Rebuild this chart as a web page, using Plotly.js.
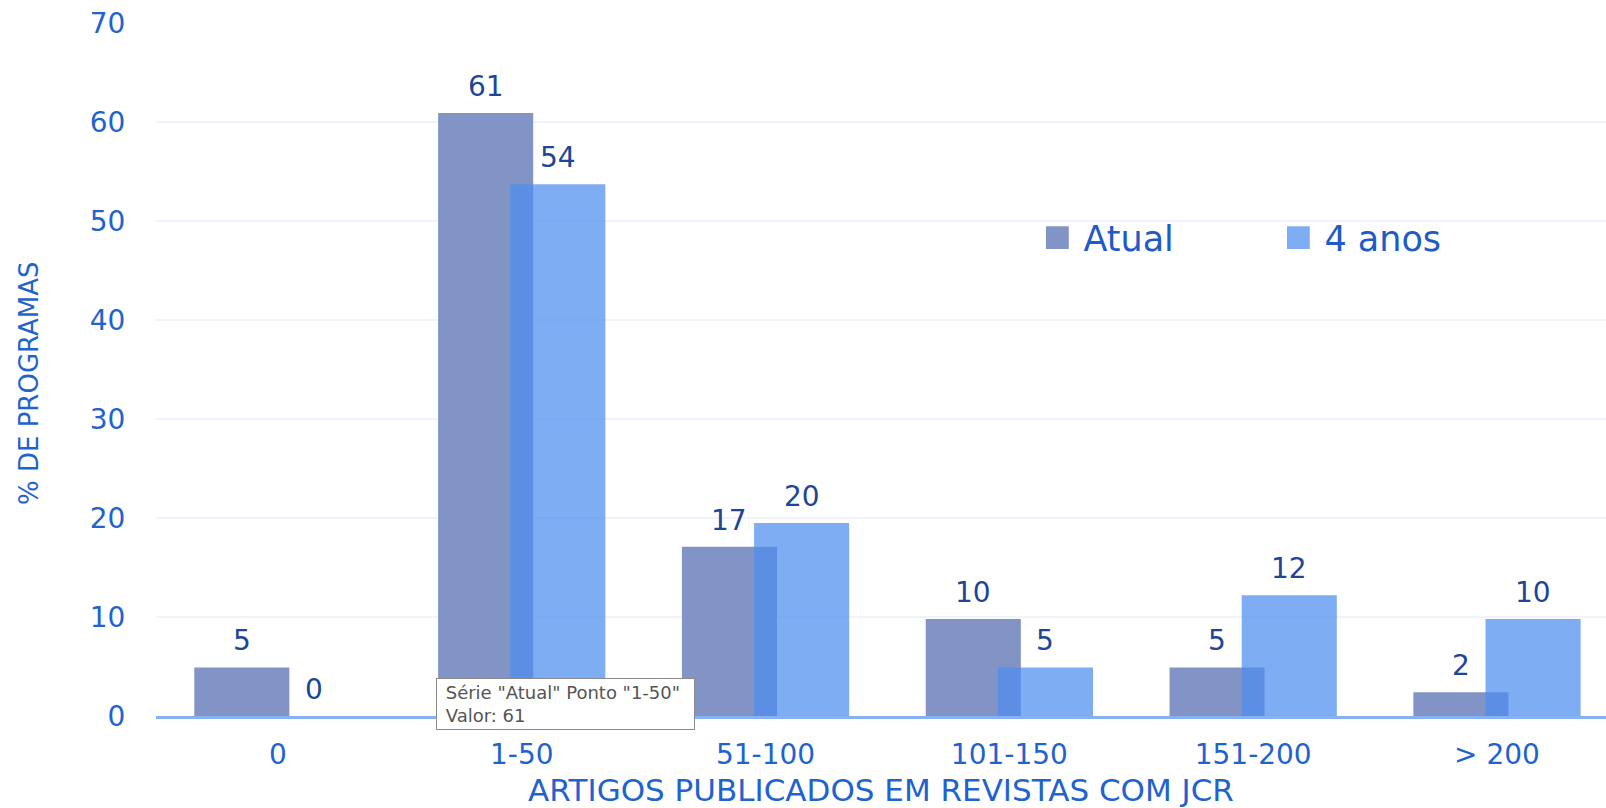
<!DOCTYPE html>
<html><head><meta charset="utf-8">
<script src="https://cdn.plot.ly/plotly-3.0.1.min.js"></script>
<style>
html,body{margin:0;padding:0;background:#fff;}
#chart{width:1606px;height:808px;}
g.legendpoints path{transform:translate(14px,0px) scale(1.9) !important;}
</style></head><body><div id="chart"></div>
<script>
const categories = ['0', '1-50', '51-100', '101-150', '151-200', '> 200'];
const seriesNames = ['Atual', '4 anos'];
const atual = [4.9, 60.9, 17.1, 9.8, 4.9, 2.4];
const quatroAnos = [0, 53.7, 19.5, 4.9, 12.2, 9.8];
const yTicks = [0, 10, 20, 30, 40, 50, 60, 70];

const barWidth = 0.39;
const offAtual = -0.343;
const offQuatro = -0.047;
const fontMain = 'DejaVu Sans, sans-serif';
const labelColor = '#1E4596';
const tickColor = '#1F63CF';

const traces = [
  {type: 'bar', name: seriesNames[0], x: categories, y: atual,
   width: barWidth, offset: offAtual,
   marker: {color: 'rgb(130,148,197)', line: {width: 0}}, hoverinfo: 'none'},
  {type: 'bar', name: seriesNames[1], x: categories, y: quatroAnos,
   width: barWidth, offset: offQuatro,
   marker: {color: 'rgba(77,142,238,0.72)', line: {width: 0}}, hoverinfo: 'none'}
];

const annotations = [];
[[atual, offAtual], [quatroAnos, offQuatro]].forEach(([vals, off]) => {
  vals.forEach((v, i) => {
    annotations.push({
      x: i + off + barWidth / 2, y: v, xref: 'x', yref: 'y',
      text: String(Math.round(v)), showarrow: false,
      yanchor: 'bottom', yshift: 8,
      font: {family: fontMain, size: 28, color: labelColor}
    });
  });
});
// y-axis title
annotations.push({
  xref: 'paper', yref: 'paper', x: -0.0876, y: 0.4805,
  xanchor: 'center', yanchor: 'middle', textangle: -90, showarrow: false,
  text: '% DE PROGRAMAS',
  font: {family: fontMain, size: 26, color: tickColor}
});
// static tooltip shown in the screenshot
annotations.push({
  xref: 'paper', yref: 'paper', x: 0.1929, y: 0.0548,
  xanchor: 'left', yanchor: 'top', align: 'left', showarrow: false,
  text: '&nbsp;Série "' + seriesNames[0] + '" Ponto "' + categories[1] + '"&nbsp;&nbsp;<br>&nbsp;Valor: ' + Math.round(atual[1]),
  bgcolor: '#ffffff', bordercolor: '#8a8a8a', borderwidth: 1, borderpad: 3,
  font: {family: fontMain, size: 18, color: '#555555'}
});

const layout = {
  width: 1606, height: 808,
  margin: {l: 156, r: 0, t: 23, b: 92},
  paper_bgcolor: '#ffffff', plot_bgcolor: '#ffffff',
  barmode: 'overlay',
  showlegend: true,
  legend: {orientation: 'h', x: 0.612, xanchor: 'left', y: 0.69, yanchor: 'middle',
    entrywidth: 196, entrywidthmode: 'pixels', traceorder: 'normal',
    font: {family: fontMain, size: 35, color: '#1F5BC6'}, bgcolor: 'rgba(0,0,0,0)'},
  xaxis: {type: 'category', categoryorder: 'array', categoryarray: categories,
    range: [-0.5, 5.447], showgrid: false, zeroline: false,
    showline: true, linecolor: '#86B2F5', linewidth: 3,
    ticks: 'outside', ticklen: 11, tickcolor: 'rgba(0,0,0,0)',
    tickfont: {family: fontMain, size: 28, color: tickColor},
    title: {text: 'ARTIGOS PUBLICADOS EM REVISTAS COM JCR', standoff: 22,
      font: {family: fontMain, size: 31, color: tickColor}}},
  yaxis: {range: [0, 70], tickvals: yTicks, ticktext: yTicks.map(String),
    showgrid: true, gridcolor: '#EEF3FC', gridwidth: 2, zeroline: false, showline: false,
    ticks: 'outside', ticklen: 24, tickcolor: 'rgba(0,0,0,0)',
    tickfont: {family: fontMain, size: 28, color: tickColor}},
  annotations: annotations
};

Plotly.newPlot('chart', traces, layout, {displayModeBar: false, staticPlot: true});
</script></body></html>
